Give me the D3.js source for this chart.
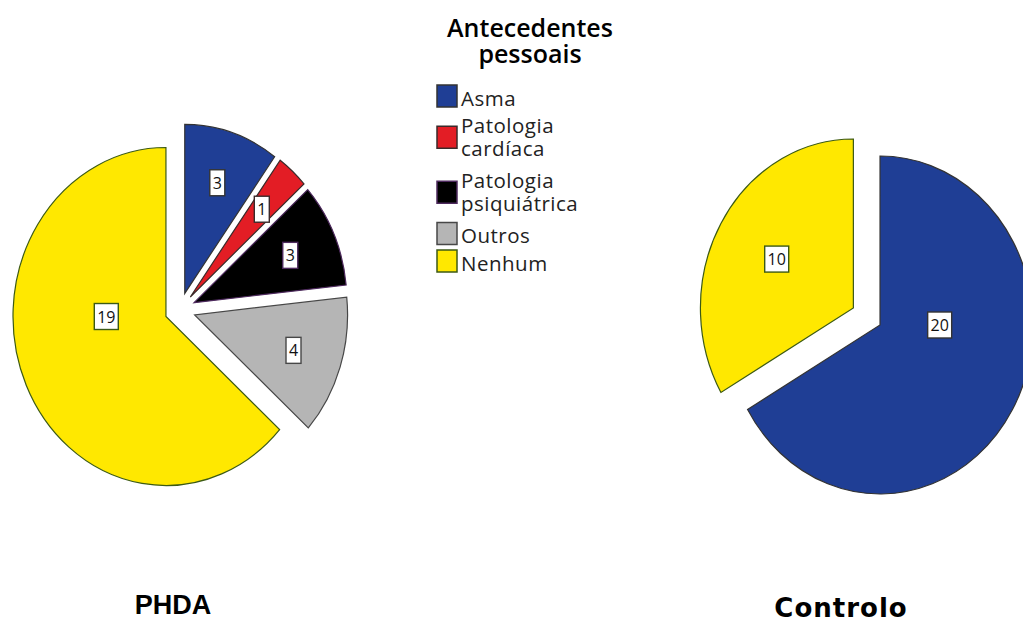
<!DOCTYPE html>
<html>
<head>
<meta charset="utf-8">
<style>
  body { margin: 0; background: #fff; }
  text { font-family: 'Open Sans', sans-serif; }
</style>
</head>
<body>
<div id="chart"></div>
<script src="https://cdn.jsdelivr.net/npm/d3@7/dist/d3.min.js"></script>
<script>
// data
var categories = ['Asma', 'Patologia cardíaca', 'Patologia psiquiátrica', 'Outros', 'Nenhum'];
var legendLines = [['Asma'], ['Patologia', 'cardíaca'], ['Patologia', 'psiquiátrica'], ['Outros'], ['Nenhum']];
var groups = ['PHDA', 'Controlo'];
var phdaValues = [3, 1, 3, 4, 19];
var controloValues = [20, 0, 0, 0, 10];
var fills = ['#1f3e95', '#e31d25', '#000000', '#b5b5b5', '#ffe800'];
var strokes = ['#333333', '#3a2a2a', '#4e2a5e', '#474747', '#3c5a14'];

var width = 1023, height = 623;
var r = 169, sx = 0.905, explode = 17;

var svg = d3.select('#chart').append('svg')
    .attr('width', width)
    .attr('height', height);

var color = d3.scaleOrdinal().domain(categories).range(fills);
var edge = d3.scaleOrdinal().domain(categories).range(strokes);

var pie = d3.pie().sort(null).value(function(d){ return d.value; });
var arc = d3.arc().innerRadius(0).outerRadius(r);

// screen offset of a polar point (clockwise from 12 o'clock)
function polar(a, dist){
    return [dist * Math.sin(a) * sx, -dist * Math.cos(a)];
}

// where the count box sits inside a slice
function labelPos(d){
    var span = d.endAngle - d.startAngle;
    var mid = (d.startAngle + d.endAngle) / 2;
    if(span > Math.PI){
        var a = Math.sin(mid) > 0 ? Math.PI / 2 : 3 * Math.PI / 2;
        return polar(a, 0.39 * r);
    }
    var h = span / 2;
    var dist = 2 * r * Math.sin(h) / (3 * h) * 1.05;
    return polar(mid, dist);
}

var panels = [
    {name: groups[0], values: phdaValues, cx: 180, cy: 309.6, tx: 173, ty: 614,
     font: "'Liberation Sans', Arial, sans-serif", size: 27, spacing: 0},
    {name: groups[1], values: controloValues, cx: 866.7, cy: 316.5, tx: 841, ty: 617,
     font: "'DejaVu Sans', Verdana, sans-serif", size: 26, spacing: 1}
];

panels.forEach(function(p){
    var rows = categories.map(function(c, i){ return {cat: c, value: p.values[i]}; });
    var slices = pie(rows).filter(function(d){ return d.value > 0; });

    var g = svg.append('g').attr('transform', 'translate(' + p.cx + ',' + p.cy + ')');

    g.selectAll('path.slice')
        .data(slices)
        .enter().append('path')
        .attr('class', 'slice')
        .attr('transform', function(d){
            var o = polar((d.startAngle + d.endAngle) / 2, explode);
            return 'translate(' + o[0] + ',' + o[1] + ') scale(' + sx + ',1)';
        })
        .attr('d', arc)
        .attr('fill', function(d){ return color(d.data.cat); })
        .attr('stroke', function(d){ return edge(d.data.cat); })
        .attr('stroke-width', 1.2)
        .attr('vector-effect', 'non-scaling-stroke');

    var lab = g.selectAll('g.lab')
        .data(slices)
        .enter().append('g')
        .attr('class', 'lab')
        .attr('transform', function(d){
            var o = polar((d.startAngle + d.endAngle) / 2, explode);
            var l = labelPos(d);
            return 'translate(' + (o[0] + l[0]) + ',' + (o[1] + l[1]) + ')';
        });

    lab.each(function(d){
        var s = d3.select(this);
        var txt = String(d.value);
        var w = txt.length * 9 + 6;
        s.append('rect')
            .attr('x', -w / 2).attr('y', -13)
            .attr('width', w).attr('height', 26)
            .attr('fill', '#fff')
            .attr('stroke', edge(d.data.cat))
            .attr('stroke-width', 1.4);
        s.append('text')
            .attr('text-anchor', 'middle')
            .attr('y', 6)
            .attr('font-size', 16)
            .attr('fill', '#111')
            .text(txt);
    });

    svg.append('text')
        .attr('x', p.tx).attr('y', p.ty)
        .attr('text-anchor', 'middle')
        .style('font-family', p.font)
        .attr('font-weight', 'bold')
        .attr('font-size', p.size)
        .attr('letter-spacing', p.spacing)
        .attr('fill', '#000')
        .text(p.name);
});

// legend
var legend = svg.append('g');
legend.append('text')
    .attr('x', 530).attr('y', 37)
    .attr('text-anchor', 'middle')
    .attr('font-size', 25)
    .attr('font-weight', 600)
    .attr('fill', '#000')
    .text('Antecedentes');
legend.append('text')
    .attr('x', 530).attr('y', 63)
    .attr('text-anchor', 'middle')
    .attr('font-size', 25)
    .attr('font-weight', 600)
    .attr('fill', '#000')
    .text('pessoais');

var itemTop = 82.25, unit = 27.5, lineGap = 23;
categories.forEach(function(c, i){
    var lines = legendLines[i];
    var h = unit + (lines.length - 1) * unit;
    var mid = itemTop + h / 2;
    legend.append('rect')
        .attr('x', 437).attr('y', mid - 11)
        .attr('width', 20).attr('height', 22)
        .attr('fill', color(c))
        .attr('stroke', edge(c))
        .attr('stroke-width', 1.5);
    var base = lines.length === 1 ? mid + 9.5 : mid - 4;
    lines.forEach(function(t, j){
        legend.append('text')
            .attr('x', 461).attr('y', base + j * lineGap)
            .attr('font-size', 20.5)
            .attr('letter-spacing', 0.5)
            .attr('fill', '#222')
            .text(t);
    });
    itemTop += h;
});
</script>
</body>
</html>
